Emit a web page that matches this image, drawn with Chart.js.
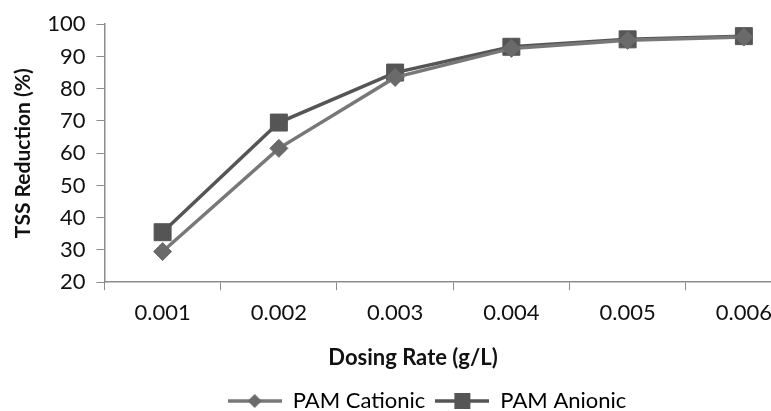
<!DOCTYPE html>
<html>
<head>
<meta charset="utf-8">
<script src="https://cdn.jsdelivr.net/npm/chart.js@4.4.1/dist/chart.umd.min.js"></script>
<style>
  html, body { margin: 0; padding: 0; background: #fff; overflow: hidden; }
</style>
</head>
<body>
<canvas id="chart" width="815" height="422"></canvas>
<script>
const dosingRates = ["0.001", "0.002", "0.003", "0.004", "0.005", "0.006"];
const pamCationic = [29.5, 61.5, 83.5, 92.5, 95, 96];
const pamAnionic = [35.5, 69.5, 85, 93, 95.3, 96.3];
const yMin = 20;
const yMax = 100;
const yStep = 10;

const axisGray = "#8c8c8c";
const cationicLine = "#787878";
const cationicMark = "#6a6a6a";
const anionicLine = "#555555";
const anionicMark = "#555555";

// legend swatch: short line with the marker in the middle
function legendSwatch(lineColor, markColor, style) {
  const c = document.createElement("canvas");
  c.width = 54;
  c.height = 22;
  const ctx = c.getContext("2d");
  ctx.strokeStyle = lineColor;
  ctx.lineWidth = 3.5;
  ctx.beginPath();
  ctx.moveTo(0, 11);
  ctx.lineTo(54, 11);
  ctx.stroke();
  ctx.fillStyle = markColor;
  ctx.beginPath();
  if (style === "diamond") {
    ctx.moveTo(27, 4);
    ctx.lineTo(34, 11);
    ctx.lineTo(27, 18);
    ctx.lineTo(20, 11);
    ctx.closePath();
  } else {
    ctx.rect(19, 3, 16, 16);
  }
  ctx.fill();
  return c;
}

const swatches = [
  legendSwatch(cationicLine, cationicMark, "diamond"),
  legendSwatch(anionicLine, anionicMark, "square"),
];

const fontFamily = "Lato, 'Open Sans', sans-serif";

// nudge the legend row a little to the right of the canvas centre
const legendNudge = {
  id: "legendNudge",
  afterLayout(chart) {
    if (chart.legend) {
      chart.legend.left += 14;
      chart.legend.right += 14;
    }
  },
};

new Chart(document.getElementById("chart"), {
  type: "line",
  data: {
    labels: dosingRates,
    datasets: [
      {
        label: "PAM Cationic",
        data: pamCationic,
        borderColor: cationicLine,
        backgroundColor: cationicMark,
        borderWidth: 3.5,
        pointStyle: "rectRot",
        pointRadius: 9,
        pointBackgroundColor: cationicMark,
        pointBorderColor: cationicMark,
        pointBorderWidth: 1,
        tension: 0,
      },
      {
        label: "PAM Anionic",
        data: pamAnionic,
        borderColor: anionicLine,
        backgroundColor: anionicMark,
        borderWidth: 3.5,
        pointStyle: "rect",
        pointRadius: 12,
        pointBackgroundColor: anionicMark,
        pointBorderColor: anionicMark,
        pointBorderWidth: 1,
        tension: 0,
      },
    ],
  },
  options: {
    responsive: false,
    animation: false,
    layout: { padding: { left: 11, right: 0, top: 6, bottom: 0 } },
    scales: {
      x: {
        offset: true,
        grid: {
          offset: true,
          drawOnChartArea: false,
          drawTicks: true,
          tickLength: 8,
          color: axisGray,
          lineWidth: 1,
        },
        border: { color: axisGray, width: 1.5 },
        ticks: {
          color: "#111",
          padding: 10,
          font: { family: fontFamily, size: 22 },
          maxRotation: 0,
          autoSkip: false,
        },
      },
      y: {
        min: yMin,
        max: yMax,
        ticks: {
          stepSize: yStep,
          color: "#111",
          padding: 11,
          font: { family: fontFamily, size: 22 },
        },
        grid: {
          drawOnChartArea: false,
          drawTicks: true,
          tickLength: 8,
          color: axisGray,
        },
        border: { color: axisGray, width: 1.5 },
        title: {
          display: true,
          text: "TSS Reduction (%)",
          color: "#111",
          font: { family: fontFamily, size: 21, weight: "bold" },
          padding: { top: 0, bottom: 0 },
        },
      },
    },
    plugins: {
      tooltip: { enabled: false },
      title: {
        display: true,
        position: "bottom",
        weight: 500,
        text: "Dosing Rate (g/L)",
        color: "#111",
        font: { family: fontFamily, size: 22, weight: "bold" },
        padding: { top: 8, bottom: 9 },
      },
      legend: {
        position: "bottom",
        labels: {
          usePointStyle: true,
          pointStyleWidth: 54,
          boxHeight: 22,
          padding: 10,
          color: "#111",
          font: { family: fontFamily, size: 22 },
          generateLabels: (chart) =>
            chart.data.datasets.map((ds, i) => ({
              text: ds.label,
              pointStyle: swatches[i],
              fillStyle: ds.backgroundColor,
              strokeStyle: ds.borderColor,
              lineWidth: 0,
              hidden: false,
              datasetIndex: i,
            })),
        },
      },
    },
  },
  plugins: [legendNudge],
});
</script>
</body>
</html>
